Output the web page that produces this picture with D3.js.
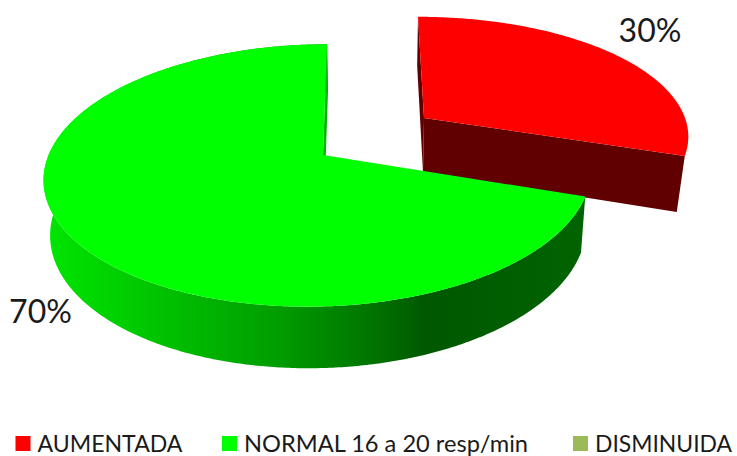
<!DOCTYPE html>
<html>
<head>
<meta charset="utf-8">
<script src="https://cdn.jsdelivr.net/npm/d3@7/dist/d3.min.js"></script>
<style>
  html, body { margin: 0; padding: 0; background: #fff; }
  svg { display: block; }
  text { font-family: Lato, "Open Sans", sans-serif; fill: #1a1a1a; }
</style>
</head>
<body>
<svg id="chart" width="737" height="456"></svg>
<script>
// Chart content
const categories = ["AUMENTADA", "NORMAL 16 a 20 resp/min", "DISMINUIDA"];
const shares = [30, 70, 0];
const topColors = ["#ff0000", "#00ff00", "#9bbb59"];
const wallColors = ["#600000", "#00b400", "#6f8a3c"];
const valueLabels = ["30%", "70%", null];

// Horizontal shading of the curved wall of the large slice
const wallShadeOffsets = [50, 130, 280, 380, 425, 585];
const wallShadeColors = ["#00e400", "#00cc00", "#009c00", "#007000", "#005800", "#006400"];

// One perspective frame per slice: the exploded slice sits further back
const frames = [
  { cx: 424, cy: 118, rimDx: -6, rx: 267, ry: 117, shear: 0, bottomDx: -1, bottomScale: 0.973 },
  { cx: 323, cy: 155, rimDx: -4.4, rx: 270, ry: 128, shear: 0.076, bottomDx: 1, bottomScale: 0.98 }
];
const perspective = 0.156;
const wallDrop = 54;
const wallStretch = 1.05;

const svg = d3.select("#chart");

const pie = d3.pie().sort(null).value(d => d);
const arcs = pie(shares);

// Tilted-disk projection of a polar position on the top face
function topPoint(f, angle, radius = 1) {
  const u = radius * Math.sin(angle), v = -radius * Math.cos(angle);
  const d = 1 - perspective * v;
  const y = f.ry * v / d;
  return [f.cx + radius * f.rimDx + f.rx * u / d - f.shear * y, f.cy + y];
}

// The same position on the lower face, offset and narrowed toward the vanishing point
function bottomPoint(f, angle, radius = 1) {
  const [x, y] = topPoint(f, angle, radius);
  return [f.cx + f.bottomDx + (x - f.cx) * f.bottomScale,
          f.cy + (y - f.cy) * wallStretch + wallDrop];
}

function sweep(a0, a1, fn, f) {
  const n = Math.max(2, Math.ceil((a1 - a0) / 0.01));
  return d3.range(n + 1).map(i => fn(f, a0 + (a1 - a0) * i / n));
}

const line = d3.line();

const defs = svg.append("defs");
const grad = defs.append("linearGradient")
  .attr("id", "wallShade")
  .attr("gradientUnits", "userSpaceOnUse")
  .attr("x1", d3.min(wallShadeOffsets)).attr("x2", d3.max(wallShadeOffsets))
  .attr("y1", 0).attr("y2", 0);
const offsetScale = d3.scaleLinear().domain(d3.extent(wallShadeOffsets)).range([0, 1]);
wallShadeOffsets.forEach((o, i) => {
  grad.append("stop").attr("offset", offsetScale(o)).attr("stop-color", wallShadeColors[i]);
});

arcs.forEach((a, i) => {
  if (a.endAngle - a.startAngle <= 0) return;
  const f = frames[i];
  const g = svg.append("g").attr("class", "slice");
  const a0 = a.startAngle, a1 = a.endAngle;

  if (i === 0) {
    // Both cut faces of the exploded slice
    g.append("path")
      .attr("d", line([topPoint(f, a0), bottomPoint(f, a0), bottomPoint(f, a0, 0), topPoint(f, a0, 0)]) + "Z")
      .attr("fill", wallColors[i]);
    g.append("path")
      .attr("d", line([topPoint(f, a1), bottomPoint(f, a1), bottomPoint(f, a0, 0), topPoint(f, a0, 0)]) + "Z")
      .attr("fill", wallColors[i]);
  } else {
    // Curved outer wall
    const upper = sweep(a0, a1, topPoint, f);
    const lower = sweep(a0, a1, bottomPoint, f).reverse();
    g.append("path")
      .attr("d", line(upper.concat(lower)) + "Z")
      .attr("fill", "url(#wallShade)");
    // Cut face behind the gap
    g.append("path")
      .attr("d", line([topPoint(f, a1), bottomPoint(f, a1), bottomPoint(f, a1, 0), topPoint(f, a1, 0)]) + "Z")
      .attr("fill", wallColors[i]);
  }

  // Top face
  const rim = sweep(a0, a1, topPoint, f);
  g.append("path")
    .attr("d", line([topPoint(f, 0, 0)].concat(rim)) + "Z")
    .attr("fill", topColors[i]);
});

// Value labels
const labelAnchors = [[650, 42], [40.5, 323]];
valueLabels.forEach((t, i) => {
  if (!t) return;
  svg.append("text")
    .attr("x", labelAnchors[i][0]).attr("y", labelAnchors[i][1])
    .attr("text-anchor", "middle")
    .attr("font-size", 32)
    .text(t);
});

// Legend row
const legendX = [15.5, 222, 573];
const legendWidths = [145, 284, 137];
const legend = svg.append("g").attr("class", "legend");
categories.forEach((c, i) => {
  legend.append("rect")
    .attr("x", legendX[i]).attr("y", 436)
    .attr("width", 15).attr("height", 15)
    .attr("fill", topColors[i]);
  legend.append("text")
    .attr("x", legendX[i] + 22).attr("y", 452)
    .attr("font-size", 23)
    .attr("textLength", legendWidths[i])
    .attr("lengthAdjust", "spacingAndGlyphs")
    .text(c);
});
</script>
</body>
</html>
